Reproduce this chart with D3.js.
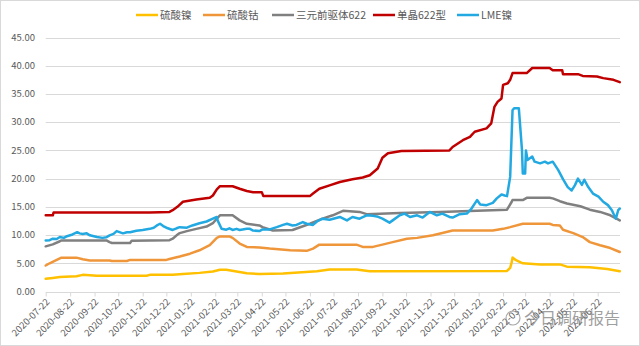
<!DOCTYPE html>
<html>
<head>
<meta charset="utf-8">
<script src="https://cdn.jsdelivr.net/npm/d3@7"></script>
<style>
  html, body { margin: 0; padding: 0; background: #fff; }
  svg { display: block; }
  text { font-family: "Microsoft YaHei", "Noto Sans CJK SC", "Noto Sans", sans-serif; }
</style>
</head>
<body>
<svg id="chart" width="640" height="346"></svg>
<script>
// ---------- DATA ----------
const tickLabels = [
  "2020-07-22","2020-08-22","2020-09-22","2020-10-22","2020-11-22","2020-12-22",
  "2021-01-22","2021-02-22","2021-03-22","2021-04-22","2021-05-22","2021-06-22",
  "2021-07-22","2021-08-22","2021-09-22","2021-10-22","2021-11-22","2021-12-22",
  "2022-01-22","2022-02-22","2022-03-22","2022-04-22","2022-05-22","2022-06-22"
];
const yTicks = [0, 5, 10, 15, 20, 25, 30, 35, 40, 45];
const seriesNames = ["硫酸镍", "硫酸钴", "三元前驱体622", "单晶622型", "LME镍"];

// 硫酸镍
const nickelSulfate = [
  ["2020-07-22",2.25],["2020-07-31",2.4],["2020-08-09",2.55],["2020-08-30",2.7],["2020-09-07",2.95],
  ["2020-09-25",2.8],["2020-11-27",2.8],["2020-12-01",2.95],["2020-12-30",2.95],["2021-01-12",3.1],
  ["2021-02-02",3.3],["2021-02-19",3.55],["2021-02-28",3.85],["2021-03-08",3.85],["2021-03-21",3.55],
  ["2021-04-03",3.25],["2021-04-19",3.1],["2021-05-19",3.2],["2021-07-01",3.6],["2021-07-17",3.9],
  ["2021-08-20",3.9],["2021-09-06",3.6],["2022-02-27",3.65],["2022-03-03",4.2],["2022-03-05",5.2],
  ["2022-03-06",6.0],["2022-03-11",5.5],["2022-03-19",5.0],["2022-04-10",4.8],["2022-05-05",4.8],
  ["2022-05-14",4.4],["2022-06-12",4.3],["2022-07-04",4.0],["2022-07-20",3.6]
];
// 硫酸钴
const cobaltSulfate = [
  ["2020-07-22",4.6],["2020-07-27",5.0],["2020-08-05",5.6],["2020-08-11",6.0],["2020-08-30",6.0],
  ["2020-09-07",5.7],["2020-09-16",5.5],["2020-10-11",5.5],["2020-10-14",5.4],["2020-11-02",5.4],
  ["2020-11-06",5.6],["2020-12-22",5.6],["2020-12-26",5.75],["2021-01-08",6.2],["2021-01-21",6.7],
  ["2021-02-02",7.3],["2021-02-15",8.2],["2021-02-24",9.5],["2021-02-28",9.75],["2021-03-12",9.75],
  ["2021-03-16",9.5],["2021-03-25",8.5],["2021-04-03",7.9],["2021-04-19",7.8],["2021-05-02",7.6],
  ["2021-05-28",7.3],["2021-06-18",7.2],["2021-06-26",7.6],["2021-07-04",8.3],["2021-08-20",8.3],
  ["2021-08-28",7.9],["2021-09-10",7.9],["2021-09-22",8.3],["2021-10-05",8.75],["2021-10-23",9.35],
  ["2021-11-05",9.5],["2021-11-25",9.95],["2021-12-07",10.35],["2021-12-20",10.8],["2022-02-09",10.8],
  ["2022-02-22",11.1],["2022-03-03",11.4],["2022-03-19",12.0],["2022-04-22",12.0],["2022-04-26",11.8],
  ["2022-05-05",11.7],["2022-05-09",10.95],["2022-05-22",10.35],["2022-06-03",9.65],["2022-06-12",8.75],
  ["2022-06-25",8.2],["2022-07-08",7.7],["2022-07-20",7.0]
];
// 三元前驱体622
const precursor622 = [
  ["2020-07-22",8.0],["2020-07-31",8.35],["2020-08-09",8.9],["2020-08-11",9.05],["2020-10-07",9.05],
  ["2020-10-11",8.75],["2020-10-14",8.6],["2020-11-06",8.6],["2020-11-08",9.0],["2020-12-26",9.1],
  ["2020-12-30",9.35],["2021-01-04",9.95],["2021-01-08",10.35],["2021-01-17",10.7],["2021-01-29",11.1],
  ["2021-02-11",11.5],["2021-02-19",12.1],["2021-02-24",12.9],["2021-02-28",13.5],["2021-03-16",13.5],
  ["2021-03-25",12.6],["2021-04-03",12.0],["2021-04-19",11.7],["2021-04-23",11.4],["2021-05-06",10.8],
  ["2021-05-31",10.9],["2021-06-22",12.0],["2021-07-08",12.9],["2021-07-21",13.5],["2021-08-03",14.3],
  ["2021-08-24",14.1],["2021-09-02",13.7],["2021-10-14",13.9],["2021-12-04",14.1],["2022-02-27",14.5],
  ["2022-03-05",15.9],["2022-03-06",16.2],["2022-03-19",16.2],["2022-03-24",16.6],["2022-04-22",16.6],
  ["2022-04-26",16.5],["2022-05-05",16.0],["2022-05-14",15.6],["2022-05-31",15.1],["2022-06-12",14.5],
  ["2022-06-25",14.1],["2022-07-08",13.5],["2022-07-20",12.6]
];
// 单晶622型
const singleCrystal622 = [
  ["2020-07-22",13.5],["2020-07-31",13.5],["2020-08-01",14.0],["2020-12-01",14.0],["2020-12-26",14.1],
  ["2020-12-30",14.4],["2021-01-05",15.0],["2021-01-12",15.9],["2021-01-29",16.3],["2021-02-15",16.6],
  ["2021-02-19",17.0],["2021-02-24",18.1],["2021-02-28",18.65],["2021-03-16",18.65],["2021-03-25",18.2],
  ["2021-04-03",17.8],["2021-04-11",17.6],["2021-04-22",17.6],["2021-04-24",16.9],["2021-06-22",16.9],
  ["2021-06-26",17.35],["2021-07-04",18.2],["2021-07-17",18.8],["2021-07-30",19.4],["2021-08-15",19.9],
  ["2021-08-28",20.2],["2021-09-06",20.6],["2021-09-16",21.8],["2021-09-22",23.7],["2021-09-29",24.5],
  ["2021-10-16",24.9],["2021-12-16",25.0],["2021-12-20",25.6],["2022-01-02",26.8],["2022-01-11",27.4],
  ["2022-01-17",28.3],["2022-02-01",28.9],["2022-02-07",29.8],["2022-02-11",32.7],["2022-02-15",33.6],
  ["2022-02-20",34.2],["2022-02-22",36.6],["2022-02-28",36.9],["2022-03-03",37.5],["2022-03-06",38.7],
  ["2022-03-24",38.7],["2022-03-31",39.6],["2022-04-22",39.6],["2022-04-26",39.2],["2022-05-08",39.2],
  ["2022-05-09",38.5],["2022-05-28",38.5],["2022-06-03",38.2],["2022-06-21",38.1],["2022-06-29",37.8],
  ["2022-07-12",37.5],["2022-07-20",37.1]
];
// LME镍
const lmeNickel = [
  ["2020-07-22",9.05],["2020-07-27",9.1],["2020-07-31",9.35],["2020-08-05",9.3],["2020-08-09",9.65],
  ["2020-08-14",9.5],["2020-08-18",9.8],["2020-08-25",10.1],["2020-08-31",10.5],["2020-09-03",10.3],
  ["2020-09-07",10.2],["2020-09-12",10.3],["2020-09-16",9.95],["2020-09-25",9.65],["2020-10-02",9.5],
  ["2020-10-07",9.6],["2020-10-11",9.95],["2020-10-16",10.2],["2020-10-20",10.7],["2020-10-28",10.3],
  ["2020-11-02",10.5],["2020-11-06",10.5],["2020-11-14",10.75],["2020-11-22",10.9],["2020-12-01",11.1],
  ["2020-12-06",11.3],["2020-12-10",11.7],["2020-12-14",12.0],["2020-12-18",11.6],["2020-12-22",11.3],
  ["2020-12-30",10.9],["2021-01-04",11.2],["2021-01-08",11.4],["2021-01-17",11.3],["2021-01-24",11.7],
  ["2021-02-02",12.1],["2021-02-11",12.4],["2021-02-19",12.9],["2021-02-24",13.2],["2021-02-25",12.6],
  ["2021-03-02",11.1],["2021-03-08",10.95],["2021-03-12",11.2],["2021-03-16",10.9],["2021-03-21",11.1],
  ["2021-03-25",10.9],["2021-04-03",11.1],["2021-04-07",11.1],["2021-04-11",10.8],["2021-04-19",10.7],
  ["2021-04-23",11.0],["2021-05-02",11.0],["2021-05-11",11.4],["2021-05-19",11.8],["2021-05-24",12.0],
  ["2021-05-31",11.7],["2021-06-05",11.8],["2021-06-13",12.3],["2021-06-18",12.0],["2021-06-26",11.8],
  ["2021-07-01",12.4],["2021-07-08",12.9],["2021-07-17",12.7],["2021-07-30",13.2],["2021-08-08",12.6],
  ["2021-08-15",13.2],["2021-08-24",12.9],["2021-09-02",13.5],["2021-09-10",13.4],["2021-09-15",13.3],
  ["2021-09-22",12.9],["2021-10-01",12.2],["2021-10-05",12.6],["2021-10-14",13.5],["2021-10-20",13.8],
  ["2021-10-27",13.2],["2021-11-05",13.5],["2021-11-12",13.1],["2021-11-21",14.1],["2021-11-30",13.5],
  ["2021-12-07",13.8],["2021-12-16",13.2],["2021-12-20",13.1],["2021-12-29",13.7],["2022-01-07",13.8],
  ["2022-01-13",14.7],["2022-01-20",16.2],["2022-01-24",15.4],["2022-02-01",15.3],["2022-02-09",15.7],
  ["2022-02-14",16.5],["2022-02-20",17.2],["2022-02-24",17.0],["2022-02-27",16.9],["2022-03-03",20.3],
  ["2022-03-06",32.1],["2022-03-08",32.45],["2022-03-14",32.45],["2022-03-18",25.0],["2022-03-19",20.9],
  ["2022-03-22",20.9],["2022-03-23",25.0],["2022-03-25",23.3],["2022-03-31",23.9],["2022-04-03",23.0],
  ["2022-04-10",22.7],["2022-04-16",23.0],["2022-04-20",22.7],["2022-04-26",23.0],["2022-05-03",21.5],
  ["2022-05-09",19.9],["2022-05-15",18.5],["2022-05-20",17.9],["2022-05-24",18.8],["2022-05-28",20.0],
  ["2022-06-02",18.9],["2022-06-05",19.8],["2022-06-10",18.5],["2022-06-16",17.35],["2022-06-23",16.8],
  ["2022-06-29",15.9],["2022-07-05",15.3],["2022-07-10",14.4],["2022-07-15",12.9],["2022-07-18",14.4],
  ["2022-07-20",14.7]
];

const seriesData = [nickelSulfate, cobaltSulfate, precursor622, singleCrystal622, lmeNickel];
const colors = ["#FFC000", "#F0963A", "#808080", "#C00000", "#22A9E2"];

// ---------- CHART ----------
const parse = d3.timeParse("%Y-%m-%d");
const svg = d3.select("#chart");

svg.append("rect").attr("x", 0.5).attr("y", 0.5).attr("width", 639).attr("height", 345)
  .attr("fill", "#fff").attr("stroke", "#D9D9D9").attr("stroke-width", 1);

const x = d3.scaleTime()
  .domain([parse(tickLabels[0]), parse(tickLabels[tickLabels.length - 1])])
  .range([45.7, 597.7]);
const y = d3.scaleLinear().domain([0, 45]).range([291.5, 37.5]);

const plotLeft = 45.7, plotRight = 620;

// gridlines
svg.append("g").selectAll("line").data(yTicks.filter(d => d > 0)).join("line")
  .attr("x1", plotLeft).attr("x2", plotRight)
  .attr("y1", d => Math.round(y(d)) + 0.5).attr("y2", d => Math.round(y(d)) + 0.5)
  .attr("stroke", "#D9D9D9").attr("stroke-width", 1);

// y labels
svg.append("g").selectAll("text").data(yTicks).join("text")
  .attr("x", 35).attr("y", d => y(d)).attr("dy", "0.35em")
  .attr("text-anchor", "end").attr("font-size", 9.5).attr("fill", "#595959")
  .text(d => d3.format(".2f")(d));

// x axis
const xAxis = d3.axisBottom(x)
  .tickValues(tickLabels.map(parse))
  .tickSize(4)
  .tickFormat(d3.timeFormat("%Y-%m-%d"));
const gx = svg.append("g").attr("transform", `translate(0,${Math.round(y(0)) + 0.5})`).call(xAxis);
gx.select(".domain").attr("d", `M${plotLeft},0H${plotRight}`).attr("stroke", "#D9D9D9");
gx.selectAll(".tick line").attr("stroke", "#D9D9D9");
gx.selectAll(".tick text")
  .attr("fill", "#595959").attr("font-size", 9.5)
  .attr("font-family", "\"Microsoft YaHei\", \"Noto Sans CJK SC\", sans-serif")
  .attr("text-anchor", "end")
  .attr("y", 0).attr("dy", 0)
  .attr("transform", "translate(4,10) rotate(-45)");

// lines
const line = d3.line()
  .x(d => x(parse(d[0])))
  .y(d => y(d[1]));

svg.append("g").selectAll("path").data(seriesData).join("path")
  .attr("d", d => line(d))
  .attr("fill", "none")
  .attr("stroke", (d, i) => colors[i])
  .attr("stroke-width", 2.5)
  .attr("stroke-linejoin", "round")
  .attr("stroke-linecap", "round");

// legend
const legendX = [136, 203, 272, 373, 457];
const lg = svg.append("g").selectAll("g").data(seriesNames).join("g")
  .attr("transform", (d, i) => `translate(${legendX[i]},15)`);
lg.append("line").attr("x1", 0).attr("x2", 22).attr("y1", 0).attr("y2", 0)
  .attr("stroke", (d, i) => colors[i]).attr("stroke-width", 2.5);
lg.append("text").attr("x", 24).attr("y", 0).attr("dy", "0.35em")
  .attr("font-size", 10.5).attr("fill", "#595959").text(d => d);

// watermark
const wm = svg.append("g").attr("opacity", 0.75);
wm.append("circle").attr("cx", 513).attr("cy", 318).attr("r", 7)
  .attr("fill", "none").attr("stroke", "#8c8c8c").attr("stroke-width", 1.2);
wm.append("text").attr("x", 524).attr("y", 318).attr("dy", "0.35em")
  .attr("font-size", 16).attr("fill", "#7f7f7f").text("今日调研报告");
</script>
</body>
</html>
